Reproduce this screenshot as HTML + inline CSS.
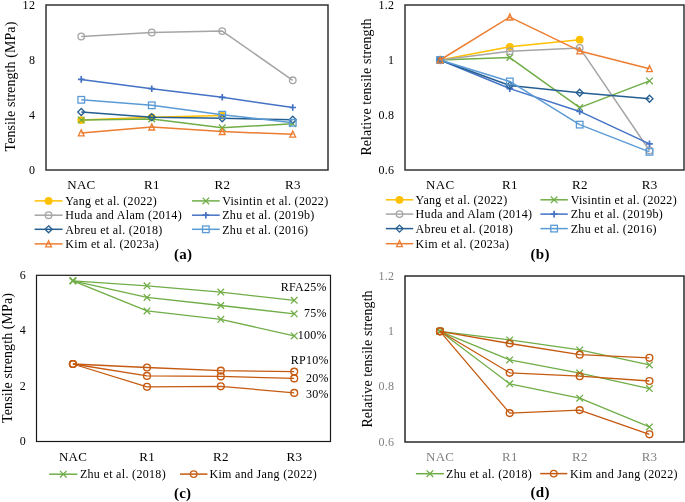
<!DOCTYPE html>
<html><head><meta charset="utf-8"><style>
html,body{margin:0;padding:0;background:#fff;}
body{width:685px;height:502px;overflow:hidden;}
svg{display:block;font-family:"Liberation Serif", serif;will-change:transform;}
</style></head><body>
<svg width="685" height="502" viewBox="0 0 685 502">
<rect width="685" height="502" fill="#fff"/>
<rect x="46" y="5" width="282" height="165" fill="none" stroke="#333" stroke-width="1.5"/>
<text x="35.18" y="173.8" font-size="12" text-anchor="end" fill="#000" font-weight="normal" letter-spacing="0.28" >0</text>
<text x="35.18" y="118.8" font-size="12" text-anchor="end" fill="#000" font-weight="normal" letter-spacing="0.28" >4</text>
<text x="35.18" y="63.8" font-size="12" text-anchor="end" fill="#000" font-weight="normal" letter-spacing="0.28" >8</text>
<text x="35.18" y="8.8" font-size="12" text-anchor="end" fill="#000" font-weight="normal" letter-spacing="0.28" >12</text>
<text x="0.04" y="0" font-size="14" text-anchor="middle" fill="#000" letter-spacing="0.08" transform="translate(14.6 86.6) rotate(-90)" >Tensile strength (MPa)</text>
<text x="81.39" y="189" font-size="13" text-anchor="middle" fill="#000" font-weight="normal" letter-spacing="0.28" >NAC</text>
<text x="151.89" y="189" font-size="13" text-anchor="middle" fill="#000" font-weight="normal" letter-spacing="0.28" >R1</text>
<text x="222.39" y="189" font-size="13" text-anchor="middle" fill="#000" font-weight="normal" letter-spacing="0.28" >R2</text>
<text x="292.89" y="189" font-size="13" text-anchor="middle" fill="#000" font-weight="normal" letter-spacing="0.28" >R3</text>
<path d="M81.25 120.10L151.75 117.30L222.25 115.60" stroke="#FFC000" stroke-width="1.5" fill="none" stroke-linejoin="round"/>
<circle cx="81.25" cy="120.10" r="3.90" fill="#FFC000"/>
<circle cx="151.75" cy="117.30" r="3.90" fill="#FFC000"/>
<circle cx="222.25" cy="115.60" r="3.90" fill="#FFC000"/>
<path d="M81.25 120.10L151.75 118.90L222.25 127.80L292.75 123.70" stroke="#70AD47" stroke-width="1.5" fill="none" stroke-linejoin="round"/>
<path d="M77.95 116.80L84.55 123.40M77.95 123.40L84.55 116.80" stroke="#70AD47" stroke-width="1.3" fill="none"/>
<path d="M148.45 115.60L155.05 122.20M148.45 122.20L155.05 115.60" stroke="#70AD47" stroke-width="1.3" fill="none"/>
<path d="M218.95 124.50L225.55 131.10M218.95 131.10L225.55 124.50" stroke="#70AD47" stroke-width="1.3" fill="none"/>
<path d="M289.45 120.40L296.05 127.00M289.45 127.00L296.05 120.40" stroke="#70AD47" stroke-width="1.3" fill="none"/>
<path d="M81.25 36.50L151.75 32.50L222.25 31.10L292.75 80.30" stroke="#A5A5A5" stroke-width="1.5" fill="none" stroke-linejoin="round"/>
<circle cx="81.25" cy="36.50" r="3.30" fill="none" stroke="#A5A5A5" stroke-width="1.3"/>
<circle cx="151.75" cy="32.50" r="3.30" fill="none" stroke="#A5A5A5" stroke-width="1.3"/>
<circle cx="222.25" cy="31.10" r="3.30" fill="none" stroke="#A5A5A5" stroke-width="1.3"/>
<circle cx="292.75" cy="80.30" r="3.30" fill="none" stroke="#A5A5A5" stroke-width="1.3"/>
<path d="M81.25 79.40L151.75 88.70L222.25 97.30L292.75 107.50" stroke="#4472C4" stroke-width="1.5" fill="none" stroke-linejoin="round"/>
<path d="M77.95 79.40H84.55M81.25 76.10V82.70" stroke="#4472C4" stroke-width="1.7000000000000002" fill="none"/>
<path d="M148.45 88.70H155.05M151.75 85.40V92.00" stroke="#4472C4" stroke-width="1.7000000000000002" fill="none"/>
<path d="M218.95 97.30H225.55M222.25 94.00V100.60" stroke="#4472C4" stroke-width="1.7000000000000002" fill="none"/>
<path d="M289.45 107.50H296.05M292.75 104.20V110.80" stroke="#4472C4" stroke-width="1.7000000000000002" fill="none"/>
<path d="M81.25 112.00L151.75 117.20L222.25 118.30L292.75 119.70" stroke="#255E91" stroke-width="1.5" fill="none" stroke-linejoin="round"/>
<path d="M81.25 108.50L84.75 112.00L81.25 115.50L77.75 112.00Z" stroke="#255E91" stroke-width="1.3" fill="none"/>
<path d="M151.75 113.70L155.25 117.20L151.75 120.70L148.25 117.20Z" stroke="#255E91" stroke-width="1.3" fill="none"/>
<path d="M222.25 114.80L225.75 118.30L222.25 121.80L218.75 118.30Z" stroke="#255E91" stroke-width="1.3" fill="none"/>
<path d="M292.75 116.20L296.25 119.70L292.75 123.20L289.25 119.70Z" stroke="#255E91" stroke-width="1.3" fill="none"/>
<path d="M81.25 99.80L151.75 105.30L222.25 114.70L292.75 122.80" stroke="#5B9BD5" stroke-width="1.5" fill="none" stroke-linejoin="round"/>
<rect x="77.95" y="96.50" width="6.60" height="6.60" stroke="#5B9BD5" stroke-width="1.3" fill="none"/>
<rect x="148.45" y="102.00" width="6.60" height="6.60" stroke="#5B9BD5" stroke-width="1.3" fill="none"/>
<rect x="218.95" y="111.40" width="6.60" height="6.60" stroke="#5B9BD5" stroke-width="1.3" fill="none"/>
<rect x="289.45" y="119.50" width="6.60" height="6.60" stroke="#5B9BD5" stroke-width="1.3" fill="none"/>
<path d="M81.25 133.00L151.75 127.10L222.25 131.60L292.75 134.30" stroke="#ED7D31" stroke-width="1.5" fill="none" stroke-linejoin="round"/>
<path d="M81.25 129.80L84.15 135.90L78.35 135.90Z" stroke="#ED7D31" stroke-width="1.3" fill="none" stroke-linejoin="miter"/>
<path d="M151.75 123.90L154.65 130.00L148.85 130.00Z" stroke="#ED7D31" stroke-width="1.3" fill="none" stroke-linejoin="miter"/>
<path d="M222.25 128.40L225.15 134.50L219.35 134.50Z" stroke="#ED7D31" stroke-width="1.3" fill="none" stroke-linejoin="miter"/>
<path d="M292.75 131.10L295.65 137.20L289.85 137.20Z" stroke="#ED7D31" stroke-width="1.3" fill="none" stroke-linejoin="miter"/>
<path d="M34.6 200.9H62.6" stroke="#FFC000" stroke-width="1.5"/>
<circle cx="48.60" cy="200.90" r="3.90" fill="#FFC000"/>
<text x="65.30" y="205.1" font-size="12" text-anchor="start" fill="#000" font-weight="normal" letter-spacing="0.32" >Yang et al. (2022)</text>
<path d="M34.6 215.2H62.6" stroke="#A5A5A5" stroke-width="1.5"/>
<circle cx="48.60" cy="215.20" r="3.30" fill="none" stroke="#A5A5A5" stroke-width="1.3"/>
<text x="65.30" y="219.39999999999998" font-size="12" text-anchor="start" fill="#000" font-weight="normal" letter-spacing="0.32" >Huda and Alam (2014)</text>
<path d="M34.6 229.3H62.6" stroke="#255E91" stroke-width="1.5"/>
<path d="M48.60 225.80L52.10 229.30L48.60 232.80L45.10 229.30Z" stroke="#255E91" stroke-width="1.3" fill="none"/>
<text x="65.30" y="233.5" font-size="12" text-anchor="start" fill="#000" font-weight="normal" letter-spacing="0.32" >Abreu et al. (2018)</text>
<path d="M34.6 243.9H62.6" stroke="#ED7D31" stroke-width="1.5"/>
<path d="M48.60 240.70L51.50 246.80L45.70 246.80Z" stroke="#ED7D31" stroke-width="1.3" fill="none" stroke-linejoin="miter"/>
<text x="65.30" y="248.1" font-size="12" text-anchor="start" fill="#000" font-weight="normal" letter-spacing="0.32" >Kim et al. (2023a)</text>
<path d="M192 200.9H219.7" stroke="#70AD47" stroke-width="1.5"/>
<path d="M202.55 197.60L209.15 204.20M202.55 204.20L209.15 197.60" stroke="#70AD47" stroke-width="1.3" fill="none"/>
<text x="222.20" y="205.1" font-size="12" text-anchor="start" fill="#000" font-weight="normal" letter-spacing="0.32" >Visintin et al. (2022)</text>
<path d="M192 215.2H219.7" stroke="#4472C4" stroke-width="1.5"/>
<path d="M202.55 215.20H209.15M205.85 211.90V218.50" stroke="#4472C4" stroke-width="1.7000000000000002" fill="none"/>
<text x="222.20" y="219.39999999999998" font-size="12" text-anchor="start" fill="#000" font-weight="normal" letter-spacing="0.32" >Zhu et al. (2019b)</text>
<path d="M192 229.3H219.7" stroke="#5B9BD5" stroke-width="1.5"/>
<rect x="202.55" y="226.00" width="6.60" height="6.60" stroke="#5B9BD5" stroke-width="1.3" fill="none"/>
<text x="222.20" y="233.5" font-size="12" text-anchor="start" fill="#000" font-weight="normal" letter-spacing="0.32" >Zhu et al. (2016)</text>
<text x="183.14" y="259" font-size="15" text-anchor="middle" fill="#000" font-weight="bold" letter-spacing="0.28" >(a)</text>
<rect x="405" y="5" width="279" height="165" fill="none" stroke="#333" stroke-width="1.5"/>
<text x="394.28" y="173.8" font-size="12" text-anchor="end" fill="#000" font-weight="normal" letter-spacing="0.28" >0.6</text>
<text x="394.28" y="118.79999999999997" font-size="12" text-anchor="end" fill="#000" font-weight="normal" letter-spacing="0.28" >0.8</text>
<text x="394.28" y="63.8" font-size="12" text-anchor="end" fill="#000" font-weight="normal" letter-spacing="0.28" >1</text>
<text x="394.28" y="8.8" font-size="12" text-anchor="end" fill="#000" font-weight="normal" letter-spacing="0.28" >1.2</text>
<text x="0.04" y="0" font-size="14" text-anchor="middle" fill="#000" letter-spacing="0.08" transform="translate(371.3 87) rotate(-90)" >Relative tensile strength</text>
<text x="440.24" y="189" font-size="13" text-anchor="middle" fill="#000" font-weight="normal" letter-spacing="0.28" >NAC</text>
<text x="509.94" y="189" font-size="13" text-anchor="middle" fill="#000" font-weight="normal" letter-spacing="0.28" >R1</text>
<text x="579.84" y="189" font-size="13" text-anchor="middle" fill="#000" font-weight="normal" letter-spacing="0.28" >R2</text>
<text x="649.64" y="189" font-size="13" text-anchor="middle" fill="#000" font-weight="normal" letter-spacing="0.28" >R3</text>
<path d="M440.10 60.00L509.80 46.80L579.70 39.65" stroke="#FFC000" stroke-width="1.5" fill="none" stroke-linejoin="round"/>
<circle cx="440.10" cy="60.00" r="3.90" fill="#FFC000"/>
<circle cx="509.80" cy="46.80" r="3.90" fill="#FFC000"/>
<circle cx="579.70" cy="39.65" r="3.90" fill="#FFC000"/>
<path d="M440.10 60.00L509.80 57.53L579.70 107.58L649.50 80.90" stroke="#70AD47" stroke-width="1.5" fill="none" stroke-linejoin="round"/>
<path d="M436.80 56.70L443.40 63.30M436.80 63.30L443.40 56.70" stroke="#70AD47" stroke-width="1.3" fill="none"/>
<path d="M506.50 54.23L513.10 60.83M506.50 60.83L513.10 54.23" stroke="#70AD47" stroke-width="1.3" fill="none"/>
<path d="M576.40 104.28L583.00 110.88M576.40 110.88L583.00 104.28" stroke="#70AD47" stroke-width="1.3" fill="none"/>
<path d="M646.20 77.60L652.80 84.20M646.20 84.20L652.80 77.60" stroke="#70AD47" stroke-width="1.3" fill="none"/>
<path d="M440.10 60.00L509.80 51.20L579.70 47.90L649.50 150.47" stroke="#A5A5A5" stroke-width="1.5" fill="none" stroke-linejoin="round"/>
<circle cx="440.10" cy="60.00" r="3.30" fill="none" stroke="#A5A5A5" stroke-width="1.3"/>
<circle cx="509.80" cy="51.20" r="3.30" fill="none" stroke="#A5A5A5" stroke-width="1.3"/>
<circle cx="579.70" cy="47.90" r="3.30" fill="none" stroke="#A5A5A5" stroke-width="1.3"/>
<circle cx="649.50" cy="150.47" r="3.30" fill="none" stroke="#A5A5A5" stroke-width="1.3"/>
<path d="M440.10 60.00L509.80 88.60L579.70 111.43L649.50 143.88" stroke="#4472C4" stroke-width="1.5" fill="none" stroke-linejoin="round"/>
<path d="M436.80 60.00H443.40M440.10 56.70V63.30" stroke="#4472C4" stroke-width="1.7000000000000002" fill="none"/>
<path d="M506.50 88.60H513.10M509.80 85.30V91.90" stroke="#4472C4" stroke-width="1.7000000000000002" fill="none"/>
<path d="M576.40 111.43H583.00M579.70 108.13V114.73" stroke="#4472C4" stroke-width="1.7000000000000002" fill="none"/>
<path d="M646.20 143.88H652.80M649.50 140.57V147.18" stroke="#4472C4" stroke-width="1.7000000000000002" fill="none"/>
<path d="M440.10 60.00L509.80 85.57L579.70 92.72L649.50 98.77" stroke="#255E91" stroke-width="1.5" fill="none" stroke-linejoin="round"/>
<path d="M440.10 56.50L443.60 60.00L440.10 63.50L436.60 60.00Z" stroke="#255E91" stroke-width="1.3" fill="none"/>
<path d="M509.80 82.07L513.30 85.57L509.80 89.07L506.30 85.57Z" stroke="#255E91" stroke-width="1.3" fill="none"/>
<path d="M579.70 89.22L583.20 92.72L579.70 96.22L576.20 92.72Z" stroke="#255E91" stroke-width="1.3" fill="none"/>
<path d="M649.50 95.27L653.00 98.77L649.50 102.27L646.00 98.77Z" stroke="#255E91" stroke-width="1.3" fill="none"/>
<path d="M440.10 60.00L509.80 81.45L579.70 124.62L649.50 151.85" stroke="#5B9BD5" stroke-width="1.5" fill="none" stroke-linejoin="round"/>
<rect x="436.80" y="56.70" width="6.60" height="6.60" stroke="#5B9BD5" stroke-width="1.3" fill="none"/>
<rect x="506.50" y="78.15" width="6.60" height="6.60" stroke="#5B9BD5" stroke-width="1.3" fill="none"/>
<rect x="576.40" y="121.33" width="6.60" height="6.60" stroke="#5B9BD5" stroke-width="1.3" fill="none"/>
<rect x="646.20" y="148.55" width="6.60" height="6.60" stroke="#5B9BD5" stroke-width="1.3" fill="none"/>
<path d="M440.10 60.00L509.80 17.10L579.70 50.93L649.50 68.80" stroke="#ED7D31" stroke-width="1.5" fill="none" stroke-linejoin="round"/>
<path d="M440.10 56.80L443.00 62.90L437.20 62.90Z" stroke="#ED7D31" stroke-width="1.3" fill="none" stroke-linejoin="miter"/>
<path d="M509.80 13.90L512.70 20.00L506.90 20.00Z" stroke="#ED7D31" stroke-width="1.3" fill="none" stroke-linejoin="miter"/>
<path d="M579.70 47.73L582.60 53.83L576.80 53.83Z" stroke="#ED7D31" stroke-width="1.3" fill="none" stroke-linejoin="miter"/>
<path d="M649.50 65.60L652.40 71.70L646.60 71.70Z" stroke="#ED7D31" stroke-width="1.3" fill="none" stroke-linejoin="miter"/>
<path d="M385.8 199.8H413.2" stroke="#FFC000" stroke-width="1.5"/>
<circle cx="399.50" cy="199.80" r="3.90" fill="#FFC000"/>
<text x="415.60" y="204.0" font-size="12" text-anchor="start" fill="#000" font-weight="normal" letter-spacing="0.32" >Yang et al. (2022)</text>
<path d="M385.8 214.1H413.2" stroke="#A5A5A5" stroke-width="1.5"/>
<circle cx="399.50" cy="214.10" r="3.30" fill="none" stroke="#A5A5A5" stroke-width="1.3"/>
<text x="415.60" y="218.29999999999998" font-size="12" text-anchor="start" fill="#000" font-weight="normal" letter-spacing="0.32" >Huda and Alam (2014)</text>
<path d="M385.8 228.6H413.2" stroke="#255E91" stroke-width="1.5"/>
<path d="M399.50 225.10L403.00 228.60L399.50 232.10L396.00 228.60Z" stroke="#255E91" stroke-width="1.3" fill="none"/>
<text x="415.60" y="232.79999999999998" font-size="12" text-anchor="start" fill="#000" font-weight="normal" letter-spacing="0.32" >Abreu et al. (2018)</text>
<path d="M385.8 243.7H413.2" stroke="#ED7D31" stroke-width="1.5"/>
<path d="M399.50 240.50L402.40 246.60L396.60 246.60Z" stroke="#ED7D31" stroke-width="1.3" fill="none" stroke-linejoin="miter"/>
<text x="415.60" y="247.89999999999998" font-size="12" text-anchor="start" fill="#000" font-weight="normal" letter-spacing="0.32" >Kim et al. (2023a)</text>
<path d="M540.4 199.8H567.8" stroke="#70AD47" stroke-width="1.5"/>
<path d="M550.80 196.50L557.40 203.10M550.80 203.10L557.40 196.50" stroke="#70AD47" stroke-width="1.3" fill="none"/>
<text x="570.70" y="204.0" font-size="12" text-anchor="start" fill="#000" font-weight="normal" letter-spacing="0.32" >Visintin et al. (2022)</text>
<path d="M540.4 214.1H567.8" stroke="#4472C4" stroke-width="1.5"/>
<path d="M550.80 214.10H557.40M554.10 210.80V217.40" stroke="#4472C4" stroke-width="1.7000000000000002" fill="none"/>
<text x="570.70" y="218.29999999999998" font-size="12" text-anchor="start" fill="#000" font-weight="normal" letter-spacing="0.32" >Zhu et al. (2019b)</text>
<path d="M540.4 228.6H567.8" stroke="#5B9BD5" stroke-width="1.5"/>
<rect x="550.80" y="225.30" width="6.60" height="6.60" stroke="#5B9BD5" stroke-width="1.3" fill="none"/>
<text x="570.70" y="232.79999999999998" font-size="12" text-anchor="start" fill="#000" font-weight="normal" letter-spacing="0.32" >Zhu et al. (2016)</text>
<text x="540.14" y="258.6" font-size="15" text-anchor="middle" fill="#000" font-weight="bold" letter-spacing="0.28" >(b)</text>
<rect x="36.5" y="275.3" width="294" height="166.2" fill="none" stroke="#1a1a1a" stroke-width="1.2"/>
<text x="25.98" y="445.1" font-size="12" text-anchor="end" fill="#000" font-weight="normal" letter-spacing="0.28" >0</text>
<text x="25.98" y="389.70000000000005" font-size="12" text-anchor="end" fill="#000" font-weight="normal" letter-spacing="0.28" >2</text>
<text x="25.98" y="334.3" font-size="12" text-anchor="end" fill="#000" font-weight="normal" letter-spacing="0.28" >4</text>
<text x="25.98" y="278.90000000000003" font-size="12" text-anchor="end" fill="#000" font-weight="normal" letter-spacing="0.28" >6</text>
<text x="0.04" y="0" font-size="14" text-anchor="middle" fill="#000" letter-spacing="0.08" transform="translate(11.8 358.0) rotate(-90)" >Tensile strength (MPa)</text>
<text x="73.04" y="461" font-size="13" text-anchor="middle" fill="#000" font-weight="normal" letter-spacing="0.28" >NAC</text>
<text x="147.14" y="461" font-size="13" text-anchor="middle" fill="#000" font-weight="normal" letter-spacing="0.28" >R1</text>
<text x="220.94" y="461" font-size="13" text-anchor="middle" fill="#000" font-weight="normal" letter-spacing="0.28" >R2</text>
<text x="294.34" y="461" font-size="13" text-anchor="middle" fill="#000" font-weight="normal" letter-spacing="0.28" >R3</text>
<path d="M72.90 280.80L147.00 285.80L220.80 292.10L294.20 300.30" stroke="#70AD47" stroke-width="1.3" fill="none" stroke-linejoin="round"/>
<path d="M69.60 277.50L76.20 284.10M69.60 284.10L76.20 277.50" stroke="#70AD47" stroke-width="1.3" fill="none"/>
<path d="M143.70 282.50L150.30 289.10M143.70 289.10L150.30 282.50" stroke="#70AD47" stroke-width="1.3" fill="none"/>
<path d="M217.50 288.80L224.10 295.40M217.50 295.40L224.10 288.80" stroke="#70AD47" stroke-width="1.3" fill="none"/>
<path d="M290.90 297.00L297.50 303.60M290.90 303.60L297.50 297.00" stroke="#70AD47" stroke-width="1.3" fill="none"/>
<path d="M72.90 280.80L147.00 297.40L220.80 305.50L294.20 313.80" stroke="#70AD47" stroke-width="1.3" fill="none" stroke-linejoin="round"/>
<path d="M69.60 277.50L76.20 284.10M69.60 284.10L76.20 277.50" stroke="#70AD47" stroke-width="1.3" fill="none"/>
<path d="M143.70 294.10L150.30 300.70M143.70 300.70L150.30 294.10" stroke="#70AD47" stroke-width="1.3" fill="none"/>
<path d="M217.50 302.20L224.10 308.80M217.50 308.80L224.10 302.20" stroke="#70AD47" stroke-width="1.3" fill="none"/>
<path d="M290.90 310.50L297.50 317.10M290.90 317.10L297.50 310.50" stroke="#70AD47" stroke-width="1.3" fill="none"/>
<path d="M72.90 280.80L147.00 310.90L220.80 319.30L294.20 335.90" stroke="#70AD47" stroke-width="1.3" fill="none" stroke-linejoin="round"/>
<path d="M69.60 277.50L76.20 284.10M69.60 284.10L76.20 277.50" stroke="#70AD47" stroke-width="1.3" fill="none"/>
<path d="M143.70 307.60L150.30 314.20M143.70 314.20L150.30 307.60" stroke="#70AD47" stroke-width="1.3" fill="none"/>
<path d="M217.50 316.00L224.10 322.60M217.50 322.60L224.10 316.00" stroke="#70AD47" stroke-width="1.3" fill="none"/>
<path d="M290.90 332.60L297.50 339.20M290.90 339.20L297.50 332.60" stroke="#70AD47" stroke-width="1.3" fill="none"/>
<path d="M72.90 364.00L147.00 367.50L220.80 370.60L294.20 371.60" stroke="#C55A11" stroke-width="1.3" fill="none" stroke-linejoin="round"/>
<circle cx="72.90" cy="364.00" r="3.40" fill="none" stroke="#C55A11" stroke-width="1.4"/>
<circle cx="147.00" cy="367.50" r="3.40" fill="none" stroke="#C55A11" stroke-width="1.4"/>
<circle cx="220.80" cy="370.60" r="3.40" fill="none" stroke="#C55A11" stroke-width="1.4"/>
<circle cx="294.20" cy="371.60" r="3.40" fill="none" stroke="#C55A11" stroke-width="1.4"/>
<path d="M72.90 364.00L147.00 375.90L220.80 376.40L294.20 378.40" stroke="#C55A11" stroke-width="1.3" fill="none" stroke-linejoin="round"/>
<circle cx="72.90" cy="364.00" r="3.40" fill="none" stroke="#C55A11" stroke-width="1.4"/>
<circle cx="147.00" cy="375.90" r="3.40" fill="none" stroke="#C55A11" stroke-width="1.4"/>
<circle cx="220.80" cy="376.40" r="3.40" fill="none" stroke="#C55A11" stroke-width="1.4"/>
<circle cx="294.20" cy="378.40" r="3.40" fill="none" stroke="#C55A11" stroke-width="1.4"/>
<path d="M72.90 364.00L147.00 386.80L220.80 386.30L294.20 392.90" stroke="#C55A11" stroke-width="1.3" fill="none" stroke-linejoin="round"/>
<circle cx="72.90" cy="364.00" r="3.40" fill="none" stroke="#C55A11" stroke-width="1.4"/>
<circle cx="147.00" cy="386.80" r="3.40" fill="none" stroke="#C55A11" stroke-width="1.4"/>
<circle cx="220.80" cy="386.30" r="3.40" fill="none" stroke="#C55A11" stroke-width="1.4"/>
<circle cx="294.20" cy="392.90" r="3.40" fill="none" stroke="#C55A11" stroke-width="1.4"/>
<text x="326.78" y="291.4" font-size="12" text-anchor="end" fill="#000" font-weight="normal" letter-spacing="0.28" >RFA25%</text>
<text x="326.78" y="317.3" font-size="12" text-anchor="end" fill="#000" font-weight="normal" letter-spacing="0.28" >75%</text>
<text x="326.78" y="338.5" font-size="12" text-anchor="end" fill="#000" font-weight="normal" letter-spacing="0.28" >100%</text>
<text x="328.78" y="363.8" font-size="12" text-anchor="end" fill="#000" font-weight="normal" letter-spacing="0.28" >RP10%</text>
<text x="328.78" y="381.5" font-size="12" text-anchor="end" fill="#000" font-weight="normal" letter-spacing="0.28" >20%</text>
<text x="328.78" y="398.1" font-size="12" text-anchor="end" fill="#000" font-weight="normal" letter-spacing="0.28" >30%</text>
<path d="M49.2 474.2H77.4" stroke="#70AD47" stroke-width="1.5"/>
<path d="M60.00 470.90L66.60 477.50M60.00 477.50L66.60 470.90" stroke="#70AD47" stroke-width="1.3" fill="none"/>
<text x="79.90" y="478.4" font-size="12" text-anchor="start" fill="#000" font-weight="normal" letter-spacing="0.32" >Zhu et al. (2018)</text>
<path d="M180 474.1H207.4" stroke="#C55A11" stroke-width="1.5"/>
<circle cx="193.70" cy="474.10" r="3.30" fill="none" stroke="#C55A11" stroke-width="1.3"/>
<text x="209.40" y="478.3" font-size="12" text-anchor="start" fill="#000" font-weight="normal" letter-spacing="0.32" >Kim and Jang (2022)</text>
<text x="182.64" y="497.5" font-size="15" text-anchor="middle" fill="#000" font-weight="bold" letter-spacing="0.28" >(c)</text>
<rect x="405" y="276" width="279" height="166" fill="none" stroke="#1a1a1a" stroke-width="1.4"/>
<text x="394.28" y="445.8" font-size="12" text-anchor="end" fill="#808080" font-weight="normal" letter-spacing="0.28" >0.6</text>
<text x="394.28" y="390.46" font-size="12" text-anchor="end" fill="#808080" font-weight="normal" letter-spacing="0.28" >0.8</text>
<text x="394.28" y="335.12" font-size="12" text-anchor="end" fill="#808080" font-weight="normal" letter-spacing="0.28" >1</text>
<text x="394.28" y="279.78000000000003" font-size="12" text-anchor="end" fill="#808080" font-weight="normal" letter-spacing="0.28" >1.2</text>
<text x="0.04" y="0" font-size="14" text-anchor="middle" fill="#000" letter-spacing="0.08" transform="translate(371.5 359) rotate(-90)" >Relative tensile strength</text>
<text x="440.14" y="461.4" font-size="13" text-anchor="middle" fill="#808080" font-weight="normal" letter-spacing="0.28" >NAC</text>
<text x="509.84" y="461.4" font-size="13" text-anchor="middle" fill="#808080" font-weight="normal" letter-spacing="0.28" >R1</text>
<text x="579.84" y="461.4" font-size="13" text-anchor="middle" fill="#808080" font-weight="normal" letter-spacing="0.28" >R2</text>
<text x="649.54" y="461.4" font-size="13" text-anchor="middle" fill="#808080" font-weight="normal" letter-spacing="0.28" >R3</text>
<path d="M440.00 331.30L509.70 339.90L579.70 349.90L649.40 364.90" stroke="#70AD47" stroke-width="1.3" fill="none" stroke-linejoin="round"/>
<path d="M436.70 328.00L443.30 334.60M436.70 334.60L443.30 328.00" stroke="#70AD47" stroke-width="1.3" fill="none"/>
<path d="M506.40 336.60L513.00 343.20M506.40 343.20L513.00 336.60" stroke="#70AD47" stroke-width="1.3" fill="none"/>
<path d="M576.40 346.60L583.00 353.20M576.40 353.20L583.00 346.60" stroke="#70AD47" stroke-width="1.3" fill="none"/>
<path d="M646.10 361.60L652.70 368.20M646.10 368.20L652.70 361.60" stroke="#70AD47" stroke-width="1.3" fill="none"/>
<path d="M440.00 331.30L509.70 359.90L579.70 373.10L649.40 388.60" stroke="#70AD47" stroke-width="1.3" fill="none" stroke-linejoin="round"/>
<path d="M436.70 328.00L443.30 334.60M436.70 334.60L443.30 328.00" stroke="#70AD47" stroke-width="1.3" fill="none"/>
<path d="M506.40 356.60L513.00 363.20M506.40 363.20L513.00 356.60" stroke="#70AD47" stroke-width="1.3" fill="none"/>
<path d="M576.40 369.80L583.00 376.40M576.40 376.40L583.00 369.80" stroke="#70AD47" stroke-width="1.3" fill="none"/>
<path d="M646.10 385.30L652.70 391.90M646.10 391.90L652.70 385.30" stroke="#70AD47" stroke-width="1.3" fill="none"/>
<path d="M440.00 331.30L509.70 383.80L579.70 398.20L649.40 426.90" stroke="#70AD47" stroke-width="1.3" fill="none" stroke-linejoin="round"/>
<path d="M436.70 328.00L443.30 334.60M436.70 334.60L443.30 328.00" stroke="#70AD47" stroke-width="1.3" fill="none"/>
<path d="M506.40 380.50L513.00 387.10M506.40 387.10L513.00 380.50" stroke="#70AD47" stroke-width="1.3" fill="none"/>
<path d="M576.40 394.90L583.00 401.50M576.40 401.50L583.00 394.90" stroke="#70AD47" stroke-width="1.3" fill="none"/>
<path d="M646.10 423.60L652.70 430.20M646.10 430.20L652.70 423.60" stroke="#70AD47" stroke-width="1.3" fill="none"/>
<path d="M440.00 331.30L509.70 343.50L579.70 354.70L649.40 357.80" stroke="#C55A11" stroke-width="1.3" fill="none" stroke-linejoin="round"/>
<circle cx="440.00" cy="331.30" r="3.40" fill="none" stroke="#C55A11" stroke-width="1.4"/>
<circle cx="509.70" cy="343.50" r="3.40" fill="none" stroke="#C55A11" stroke-width="1.4"/>
<circle cx="579.70" cy="354.70" r="3.40" fill="none" stroke="#C55A11" stroke-width="1.4"/>
<circle cx="649.40" cy="357.80" r="3.40" fill="none" stroke="#C55A11" stroke-width="1.4"/>
<path d="M440.00 331.30L509.70 372.80L579.70 376.20L649.40 381.00" stroke="#C55A11" stroke-width="1.3" fill="none" stroke-linejoin="round"/>
<circle cx="440.00" cy="331.30" r="3.40" fill="none" stroke="#C55A11" stroke-width="1.4"/>
<circle cx="509.70" cy="372.80" r="3.40" fill="none" stroke="#C55A11" stroke-width="1.4"/>
<circle cx="579.70" cy="376.20" r="3.40" fill="none" stroke="#C55A11" stroke-width="1.4"/>
<circle cx="649.40" cy="381.00" r="3.40" fill="none" stroke="#C55A11" stroke-width="1.4"/>
<path d="M440.00 331.30L509.70 413.10L579.70 410.10L649.40 434.30" stroke="#C55A11" stroke-width="1.3" fill="none" stroke-linejoin="round"/>
<circle cx="440.00" cy="331.30" r="3.40" fill="none" stroke="#C55A11" stroke-width="1.4"/>
<circle cx="509.70" cy="413.10" r="3.40" fill="none" stroke="#C55A11" stroke-width="1.4"/>
<circle cx="579.70" cy="410.10" r="3.40" fill="none" stroke="#C55A11" stroke-width="1.4"/>
<circle cx="649.40" cy="434.30" r="3.40" fill="none" stroke="#C55A11" stroke-width="1.4"/>
<path d="M415.9 473.7H443.9" stroke="#70AD47" stroke-width="1.5"/>
<path d="M426.60 470.40L433.20 477.00M426.60 477.00L433.20 470.40" stroke="#70AD47" stroke-width="1.3" fill="none"/>
<text x="446.10" y="477.9" font-size="12" text-anchor="start" fill="#000" font-weight="normal" letter-spacing="0.32" >Zhu et al. (2018)</text>
<path d="M540.2 473.6H567.3" stroke="#C55A11" stroke-width="1.5"/>
<circle cx="553.75" cy="473.60" r="3.30" fill="none" stroke="#C55A11" stroke-width="1.3"/>
<text x="570.10" y="477.8" font-size="12" text-anchor="start" fill="#000" font-weight="normal" letter-spacing="0.32" >Kim and Jang (2022)</text>
<text x="540.14" y="497" font-size="15" text-anchor="middle" fill="#000" font-weight="bold" letter-spacing="0.28" >(d)</text>
</svg>
</body></html>
